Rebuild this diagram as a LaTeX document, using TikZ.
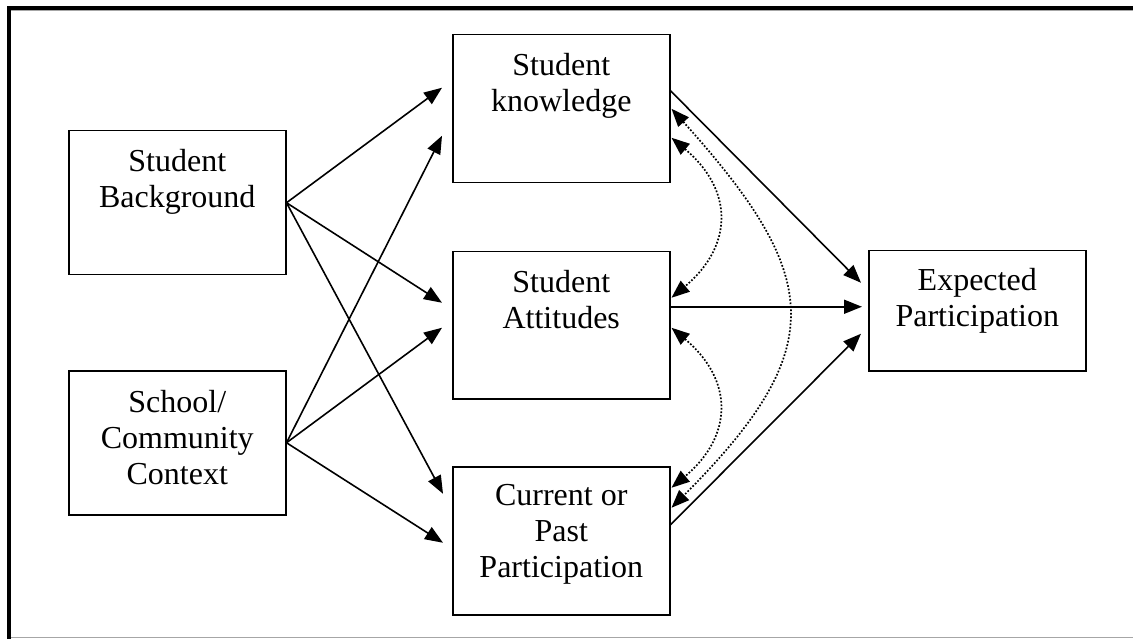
\documentclass[tikz,border=0pt]{standalone}
\usepackage{fontspec}
\setmainfont{Liberation Serif}
\usetikzlibrary{arrows.meta,calc}
\begin{document}
\begin{tikzpicture}[x=1pt,y=-1pt,
  boxn/.style={draw, line width=1.5pt, minimum width=217pt, minimum height=#1, inner sep=0pt, anchor=north west},
  lbl/.style={font=\fontsize{32}{36}\selectfont, align=center, anchor=north, inner sep=0pt},
  arr/.style={line width=1.6pt, -{Triangle[length=18pt,width=14pt]}},
  dotarr/.style={line width=1.7pt, dash pattern=on 1.7pt off 1.8pt, {Triangle[length=18pt,width=14pt]}-{Triangle[length=18pt,width=14pt]}},
]
\useasboundingbox (0,0) rectangle (1133,639);
% frame
\draw[black!35, line width=1.5pt] (10,637.5) -- (1133,637.5);
\draw[black!35, line width=1pt] (10,10.5) -- (1133,10.5);
\draw[line width=4pt] (8.8,639) -- (8.8,8) -- (1133,8);

% boxes
\node[boxn=144pt] (bg) at (68,130) {};
\node[boxn=144pt] (sc) at (68,370) {};
\node[boxn=148pt] (kn) at (452,34) {};
\node[boxn=147pt] (at) at (452,251) {};
\node[boxn=148pt] (cu) at (452,466) {};
\node[boxn=120pt] (ex) at (868,250) {};

% labels
\node[lbl] (bgt) at ([yshift=-19pt]bg.north) {Student\\Background};
\node[lbl] (sct) at ([yshift=-20pt]sc.north) {School/\\Community\\Context};
\node[lbl] (knt) at ([yshift=-19pt]kn.north) {Student\\knowledge};
\node[lbl] (att) at ([yshift=-19pt]at.north) {Student\\Attitudes};
\node[lbl] (cut) at ([yshift=-18pt]cu.north) {Current or\\Past\\Participation};
\node[lbl] (ext) at ([yshift=-18pt]ex.north) {Expected\\Participation};

% left arrows
\draw[arr] (bg.east) -- ([xshift=-10pt,yshift=21pt]kn.west);
\draw[arr] (bg.east) -- ([xshift=-10pt,yshift=22.5pt]at.west);
\draw[arr] (bg.east) -- ([xshift=-9pt,yshift=47pt]cu.west);
\draw[arr] (sc.east) -- ([xshift=-10pt,yshift=-27pt]kn.west);
\draw[arr] (sc.east) -- ([xshift=-10pt,yshift=-2.5pt]at.west);
\draw[arr] (sc.east) -- ([xshift=-9pt,yshift=-2pt]cu.west);

% right arrows
\draw[arr] ([yshift=18pt]kn.east) -- ([xshift=-7pt,yshift=28pt]ex.west);
\draw[arr] ([yshift=18.5pt]at.east) -- ([xshift=-6pt,yshift=4pt]ex.west);
\draw[arr] ([yshift=16pt]cu.east) -- ([xshift=-7pt,yshift=-23pt]ex.west);

% dotted correlations
\draw[dotarr] ([xshift=1pt,yshift=-29pt]kn.east) to[out=-40,in=40,looseness=1.3] ([xshift=1pt,yshift=27.5pt]at.east);
\draw[dotarr] ([xshift=1pt,yshift=-2.5pt]at.east) to[out=-40,in=40,looseness=1.3] ([xshift=1pt,yshift=53pt]cu.east);
\draw[dotarr] ([xshift=1pt]kn.east) to[out=-48,in=45,looseness=1.45] ([xshift=1pt,yshift=33pt]cu.east);
\end{tikzpicture}
\end{document}
